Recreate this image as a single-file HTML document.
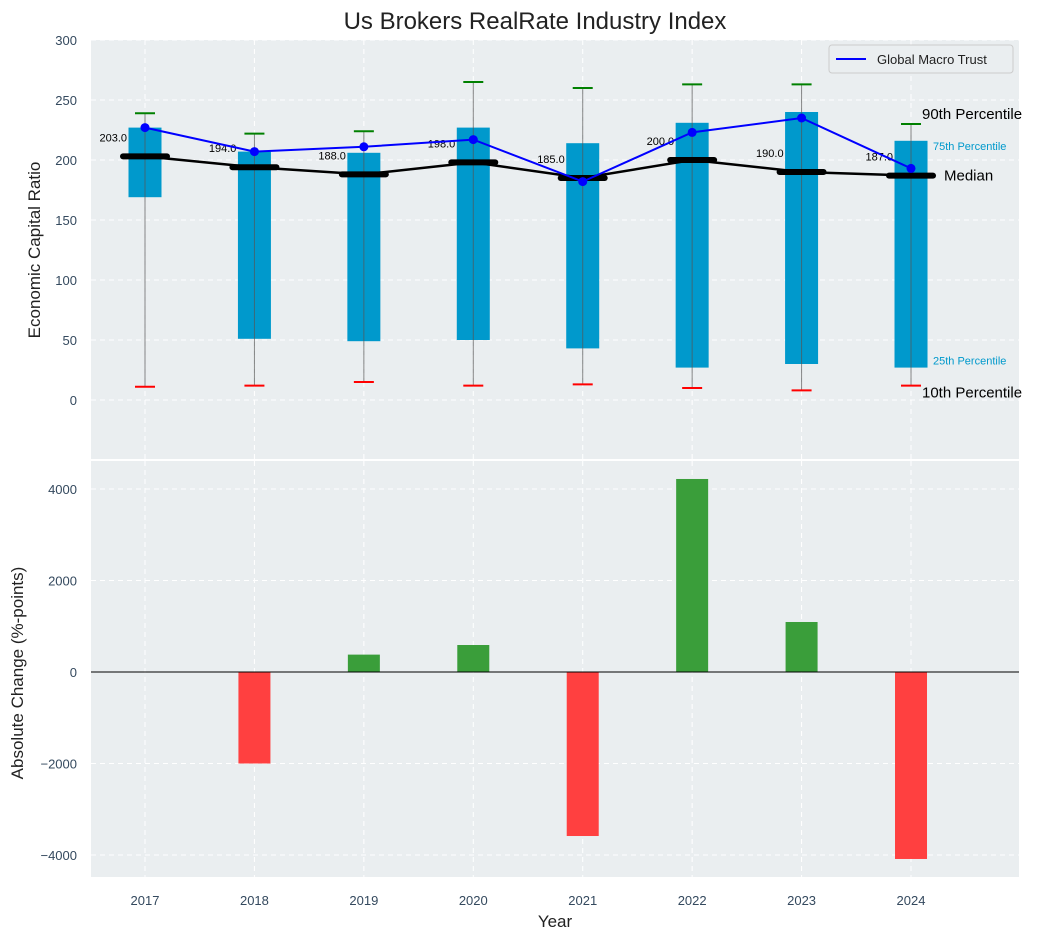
<!DOCTYPE html>
<html><head><meta charset="utf-8"><style>
body{margin:0;background:#fff;font-family:"Liberation Sans",sans-serif}
svg text{font-family:"Liberation Sans",sans-serif}
</style></head><body>
<svg id="c" width="1043" height="940" xmlns="http://www.w3.org/2000/svg">
<text x="535" y="29" font-size="24" text-anchor="middle" fill="#222">Us Brokers RealRate Industry Index</text>
<rect x="91" y="40" width="928" height="419" fill="#eaeef0"/>
<rect x="91" y="461" width="928" height="416" fill="#eaeef0"/>
<g id="gtop"></g><g id="gbot"></g>
<text transform="translate(40,250) rotate(-90)" font-size="17" text-anchor="middle" fill="#222">Economic Capital Ratio</text>
<text transform="translate(23,673) rotate(-90)" font-size="17" text-anchor="middle" fill="#222">Absolute Change (%-points)</text>
<text x="555" y="927" font-size="17" text-anchor="middle" fill="#222">Year</text>
<g>
<rect x="829" y="45" width="184" height="28" fill="#eaeef0" stroke="#ccc" rx="3"/>
<line x1="836" y1="59" x2="866" y2="59" stroke="#0000ff" stroke-width="2"/>
<text x="877" y="64" font-size="13" fill="#222">Global Macro Trust</text>
</g>
</svg>
<script>
const years=[2017,2018,2019,2020,2021,2022,2023,2024];
const p90=[239,222,224,265,260,263,263,230];
const p75=[227,207,206,227,214,231,240,216];
const p25=[169,51,49,50,43,27,30,27];
const p10=[11,12,15,12,13,10,8,12];
const median=[203,194,188,198,185,200,190,187];
const trust=[227,207,211,217,182,223,235,193];
const change=[0,-2000,380,590,-3585,4219,1093,-4087];
const topTicks=[0,50,100,150,200,250,300];
const botTicks=[-4000,-2000,0,2000,4000];
const NS="http://www.w3.org/2000/svg";
const X=v=>145+(v-2017)*109.43;
const Y=v=>400-v*1.2;
const Y2=v=>672-v*0.04575;
const TC='#34495e';
function mk(parent,tag,a,txt){const e=document.createElementNS(NS,tag);for(const k in a)e.setAttribute(k,a[k]);if(txt!==undefined)e.textContent=txt;parent.appendChild(e);return e;}
const gTop=document.getElementById('gtop'),gBot=document.getElementById('gbot');
topTicks.forEach(t=>{const g=mk(gTop,'line',{x1:91,x2:1019,y1:Y(t),y2:Y(t),stroke:'#fff','stroke-dasharray':'5,4'});


const l=mk(gTop,'text',{x:77,y:Y(t)+5,'font-size':13,'text-anchor':'end',fill:TC},t);

});
botTicks.forEach(t=>{const g=mk(gBot,'line',{x1:91,x2:1019,y1:Y2(t),y2:Y2(t),stroke:'#fff','stroke-dasharray':'5,4'});


const l=mk(gBot,'text',{x:77,y:Y2(t)+5,'font-size':13,'text-anchor':'end',fill:TC},t===0?'0':(t<0?'\u2212'+(-t):t));

});
years.forEach(y=>{[[40,459,gTop],[461,877,gBot]].forEach(([a,b,p])=>{const g=mk(p,'line',{x1:X(y),x2:X(y),y1:a,y2:b,stroke:'#fff','stroke-dasharray':'5,4'});

});
const l=mk(gBot,'text',{x:X(y),y:905,'font-size':13,'text-anchor':'middle',fill:TC},y);

});
const bw=33;
years.forEach((y,i)=>{
const b=mk(gTop,'rect',{x:X(y)-bw/2,y:Y(p75[i]),width:bw,height:Y(p25[i])-Y(p75[i]),fill:'#0099cc'});


const w=mk(gTop,'line',{x1:X(y),x2:X(y),y1:Y(p90[i]),y2:Y(p10[i]),stroke:'#555','stroke-width':1,opacity:0.7});


const c1=mk(gTop,'line',{x1:X(y)-10,x2:X(y)+10,y1:Y(p90[i]),y2:Y(p90[i]),stroke:'green','stroke-width':2});


const c2=mk(gTop,'line',{x1:X(y)-10,x2:X(y)+10,y1:Y(p10[i]),y2:Y(p10[i]),stroke:'red','stroke-width':2});


});
const mp=mk(gTop,'polyline',{points:years.map((y,i)=>X(y)+','+Y(median[i])).join(' '),fill:'none',stroke:'#000','stroke-width':2.5});


years.forEach((y,i)=>{const m=mk(gTop,'line',{x1:X(y)-22,x2:X(y)+22,y1:Y(median[i]),y2:Y(median[i]),stroke:'#000','stroke-width':6,'stroke-linecap':'round'});


const t=mk(gTop,'text',{x:X(y)-18,y:Y(median[i])-15,'font-size':11,'text-anchor':'end',fill:'#000'},median[i].toFixed(1));

});
const tp=mk(gTop,'polyline',{points:years.map((y,i)=>X(y)+','+Y(trust[i])).join(' '),fill:'none',stroke:'#0000ff','stroke-width':2});


years.forEach((y,i)=>{const c=mk(gTop,'circle',{cx:X(y),cy:Y(trust[i]),r:4.5,fill:'#0000ff'});

});
const L=years.length-1,lx=X(years[L]);
[['90th Percentile',lx+11,Y(p90[L])-5,15,'#000'],['75th Percentile',lx+22,Y(p75[L])+9,11,'#0099cc'],['Median',lx+33,Y(median[L])+5,15,'#000'],['25th Percentile',lx+22,Y(p25[L])-3,11,'#0099cc'],['10th Percentile',lx+11,Y(p10[L])+12,15,'#000']].forEach(a=>{
const t=mk(gTop,'text',{x:a[1],y:a[2],'font-size':a[3],fill:a[4]},a[0]);

});
years.forEach((y,i)=>{const v=change[i];const r=mk(gBot,'rect',{x:X(y)-16,y:Math.min(Y2(v),Y2(0)),width:32,height:Math.abs(Y2(v)-Y2(0)),fill:v>=0?'#3a9e3a':'#ff4040'});

});
const z=mk(gBot,'line',{x1:91,x2:1019,y1:Y2(0),y2:Y2(0),stroke:'#000','stroke-width':1});


</script>
</body></html>
